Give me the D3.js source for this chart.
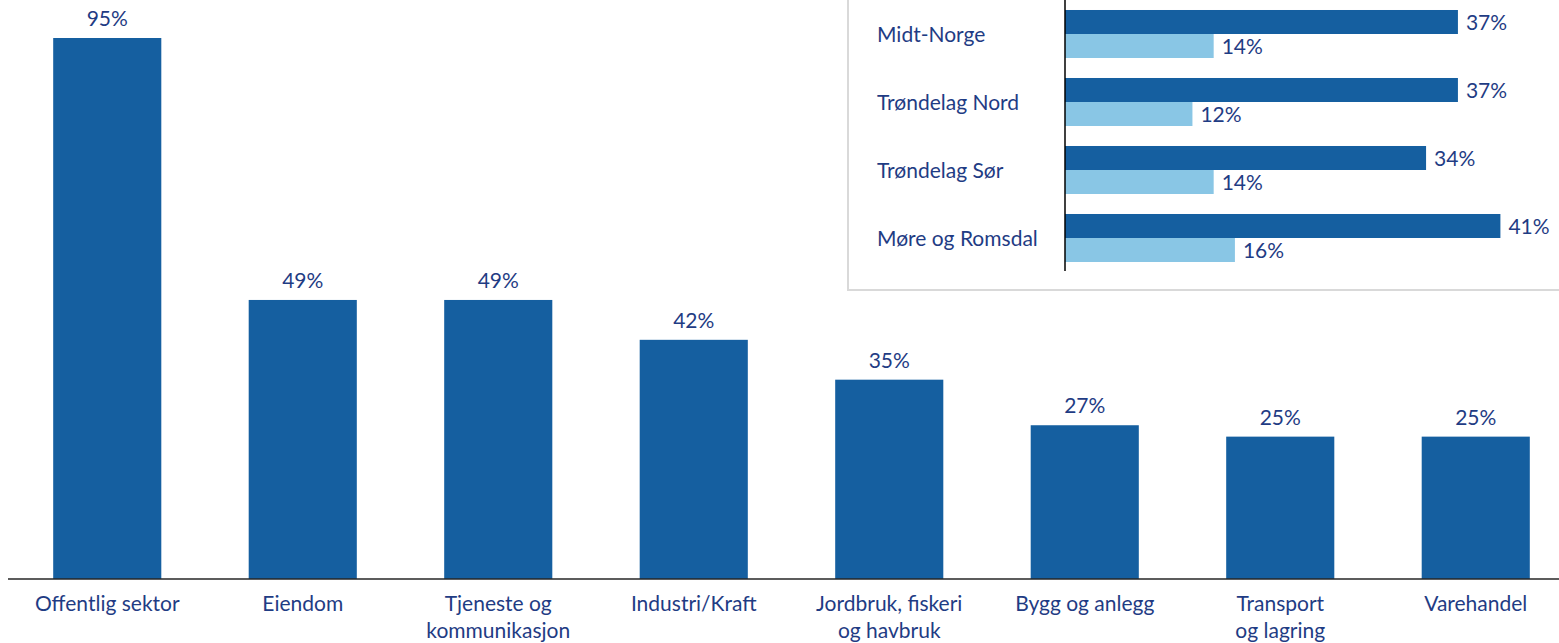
<!DOCTYPE html>
<html><head><meta charset="utf-8">
<script src="https://cdn.jsdelivr.net/npm/d3@7/dist/d3.min.js"></script>
<style>body{margin:0;background:#fff}svg{display:block}text{font-family:Lato,"Open Sans",sans-serif;fill:#1F3C84}</style>
</head><body><svg id="c" width="1559" height="643"></svg>
<script>
const categories = ["Offentlig sektor","Eiendom","Tjeneste og\nkommunikasjon","Industri/Kraft","Jordbruk, fiskeri\nog havbruk","Bygg og anlegg","Transport\nog lagring","Varehandel"];
const values = [95,49,49,42,35,27,25,25];
const regions = ["Midt-Norge","Trøndelag Nord","Trøndelag Sør","Møre og Romsdal"];
const regionDark = [37,37,34,41];
const regionLight = [14,12,14,16];

const svg = d3.select("#c");
const dark = "#155FA0", light = "#89C6E5";
const fs = 21;

// main chart
const x = d3.scaleBand().domain(categories).range([9.5,1573.5]).paddingInner(0.447).paddingOuter(0.2235);
const y = d3.scaleLinear().domain([0,95]).range([579,38]);
const g = svg.append("g");
g.selectAll("rect.b").data(values).join("rect").attr("class","b")
  .attr("x",(d,i)=>x(categories[i])).attr("width",x.bandwidth())
  .attr("y",d=>y(d)).attr("height",d=>y(0)-y(d)).attr("fill",dark);
g.selectAll("text.v").data(values).join("text").attr("class","v")
  .attr("x",(d,i)=>x(categories[i])+x.bandwidth()/2).attr("y",d=>y(d)-12)
  .attr("text-anchor","middle").attr("font-size",fs).text(d=>d+"%");
const ax = g.append("g").attr("transform",`translate(0,${y(0)})`)
  .call(d3.axisBottom(x).tickSize(0).tickFormat(""));
ax.select(".domain").attr("d","M8,0H1559").attr("stroke","#262626").attr("stroke-width",1.5);
ax.selectAll(".tick").each(function(d){
  const t = d3.select(this).append("text").attr("text-anchor","middle").attr("font-size",fs).attr("y",32);
  d.split("\n").forEach((s,k)=>t.append("tspan").attr("x",0).attr("dy",k?26.5:0).text(s));
});

// inset
const box = svg.append("g");
box.append("rect").attr("x",848).attr("y",-10).attr("width",730).attr("height",300)
  .attr("fill","#fff").attr("stroke","#d9d9d9").attr("stroke-width",2);
const xi = d3.scaleLinear().domain([0,46]).range([1065,1553.5]);
const yi = d3.scaleBand().domain(regions).range([0,272]).paddingInner(0.294).paddingOuter(0.147);
const bh = yi.bandwidth()/2;
regions.forEach((r,i)=>{
  const y0 = yi(r);
  box.append("rect").attr("x",xi(0)).attr("y",y0).attr("width",xi(regionDark[i])-xi(0)).attr("height",bh).attr("fill",dark);
  box.append("rect").attr("x",xi(0)).attr("y",y0+bh).attr("width",xi(regionLight[i])-xi(0)).attr("height",bh).attr("fill",light);
  box.append("text").attr("x",xi(regionDark[i])+8).attr("y",y0+bh/2).attr("dy","0.36em").attr("font-size",fs).text(regionDark[i]+"%");
  box.append("text").attr("x",xi(regionLight[i])+8).attr("y",y0+bh*1.5).attr("dy","0.36em").attr("font-size",fs).text(regionLight[i]+"%");
});
const ay = box.append("g").attr("transform",`translate(${xi(0)},0)`)
  .call(d3.axisLeft(yi).tickSize(0).tickFormat(""));
ay.select(".domain").attr("d","M0,0V271").attr("stroke","#000").attr("stroke-width",1.5);
ay.selectAll(".tick").append("text").attr("x",877-1065).attr("text-anchor","start").attr("dy","0.36em").attr("font-size",fs).text(d=>d);
</script></body></html>
